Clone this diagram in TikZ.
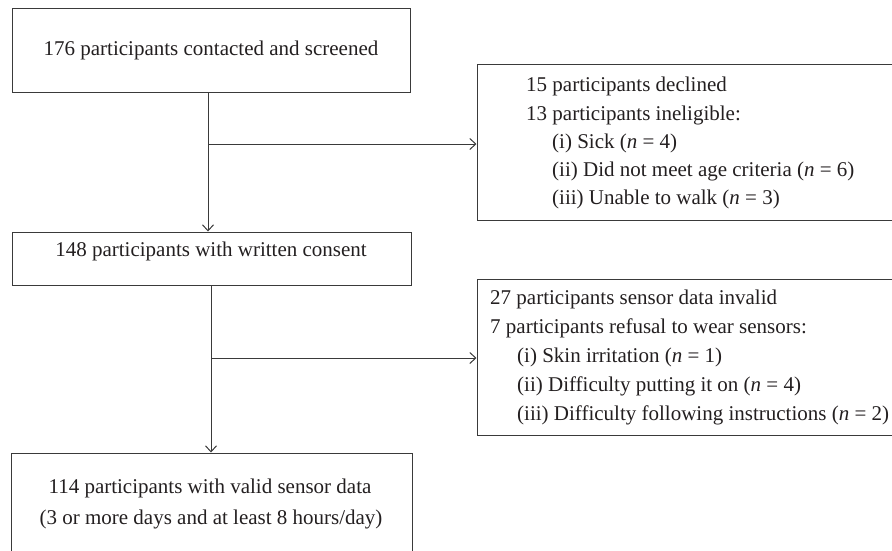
\documentclass[tikz,border=0pt]{standalone}
\usepackage{fontspec}
\setmainfont{Liberation Serif}
\usetikzlibrary{arrows.meta}
\definecolor{linec}{HTML}{3A3A3A}
\definecolor{textc}{HTML}{231F20}
\tikzset{
  box/.style={draw=linec, line width=1pt, rectangle, inner sep=0pt},
  txt/.style={text=textc, inner sep=0pt, font=\fontsize{21}{28.3}\selectfont},
  conn/.style={draw=linec, line width=1pt, -{Straight Barb[length=6pt,width=11pt]}},
  plain/.style={draw=linec, line width=1pt}
}
\begin{document}
\begin{tikzpicture}[x=1pt,y=-1pt]
\useasboundingbox (0,0) rectangle (892,550);
% boxes
\node[box, minimum width=398pt, minimum height=84pt] (b1) at (211,50) {};
\node[box, minimum width=399pt, minimum height=53pt] (b2) at (211.5,258.5) {};
\node[box, minimum width=401pt, minimum height=102pt] (b3) at (211.5,504) {};
\node[box, minimum width=423pt, minimum height=156pt] (r1) at (688.5,142) {};
\node[box, minimum width=423pt, minimum height=156pt] (r2) at (688.5,357) {};
% texts
\node[txt, anchor=base] (t1) at (211,55.7) {176 participants contacted and screened};
\node[txt, anchor=base] (t2) at (211,256.7) {148 participants with written consent};
\node[txt, anchor=base] (t3a) at (210,493.3) {114 participants with valid sensor data};
\node[txt, anchor=base] (t3b) at (211,524) {(3 or more days and at least 8 hours/day)};
\node[txt, anchor=base west] (tr1) at (526,91.7) {\begin{tabular}[t]{@{}l@{}}
15 participants declined\\
13 participants ineligible:\\
\hspace{26pt}(i) Sick (\textit{n}\ =\ 4)\\
\hspace{26pt}(ii) Did not meet age criteria (\textit{n}\ =\ 6)\\
\hspace{26pt}(iii) Unable to walk (\textit{n}\ =\ 3)
\end{tabular}};
\node[txt, anchor=base west, font=\fontsize{21}{29}\selectfont] (tr2) at (490,304) {\begin{tabular}[t]{@{}l@{}}
27 participants sensor data invalid\\
7 participants refusal to wear sensors:\\
\hspace{27pt}(i) Skin irritation (\textit{n}\ =\ 1)\\
\hspace{27pt}(ii) Difficulty putting it on (\textit{n}\ =\ 4)\\
\hspace{27pt}(iii) Difficulty following instructions (\textit{n}\ =\ 2)
\end{tabular}};
% connectors
\coordinate (j1) at (208,144);
\coordinate (j2) at (211,358);
\draw[conn] (j1 |- b1.south) -- (j1 |- b2.north);
\draw[conn] (j1) -- (j1 -| r1.west);
\draw[conn] (j2 |- b2.south) -- (j2 |- b3.north);
\draw[conn] (j2) -- (j2 -| r2.west);
\end{tikzpicture}
\end{document}
